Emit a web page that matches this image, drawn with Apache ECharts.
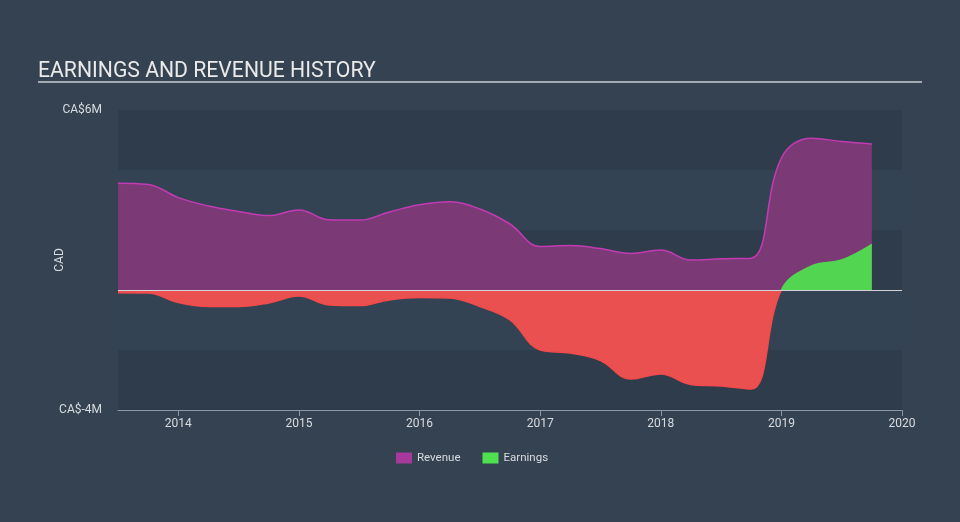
<!DOCTYPE html>
<html>
<head>
<meta charset="utf-8">
<script src="https://cdn.jsdelivr.net/npm/echarts@6/dist/echarts.min.js"></script>
<style>
  html, body { margin: 0; padding: 0; background: #354251; }
  #chart { width: 960px; height: 522px; }
</style>
</head>
<body>
<div id="chart"></div>
<script>
// quarter ends, as decimal years
var quarters = [2013.5, 2013.75, 2014, 2014.25, 2014.5, 2014.75, 2015, 2015.25, 2015.5, 2015.75,
  2016, 2016.25, 2016.5, 2016.75, 2017, 2017.25, 2017.5, 2017.75, 2018, 2018.25, 2018.5, 2018.75,
  2019, 2019.25, 2019.5, 2019.75];
// CA$ millions
var revenue = [3.56, 3.52, 3.08, 2.8, 2.62, 2.48, 2.67, 2.34, 2.33, 2.6,
  2.84, 2.94, 2.7, 2.2, 1.45, 1.48, 1.38, 1.22, 1.33, 1.0, 1.04, 1.06,
  4.4, 5.06, 4.95, 4.87];
var earnings = [-0.09, -0.1, -0.42, -0.55, -0.55, -0.43, -0.2, -0.5, -0.52, -0.33,
  -0.25, -0.27, -0.55, -1.0, -2.0, -2.1, -2.35, -2.97, -2.8, -3.15, -3.2, -3.3,
  0.0, 0.8, 1.0, 1.52];
var yearTicks = [2014, 2015, 2016, 2017, 2018, 2019, 2020];

function pairs(vals) {
  var out = [];
  for (let i = 0; i < quarters.length; i++) {
    out.push([quarters[i], vals[i]]);
  }
  return out;
}

// green above zero, red below (grid runs y 110..410, zero sits at 60%)
function signGradient(up, down) {
  return new echarts.graphic.LinearGradient(0, 110, 0, 410, [
    { offset: 0, color: up },
    { offset: 0.6, color: up },
    { offset: 0.6, color: down },
    { offset: 1, color: down }
  ], true);
}

var chart = echarts.init(document.getElementById('chart'));
var option = {
  backgroundColor: '#354251',
  textStyle: { fontFamily: 'Roboto' },
  title: {
    text: 'EARNINGS AND REVENUE HISTORY',
    left: 33,
    top: 56,
    textStyle: { color: '#eaeaea', fontSize: 21.2, fontWeight: 'normal', fontFamily: 'Roboto' }
  },
  graphic: [{
    type: 'line',
    shape: { x1: 38, y1: 82, x2: 922, y2: 82 },
    style: { stroke: '#a3aab2', lineWidth: 2 },
    silent: true
  }, {
    type: 'line',
    shape: { x1: 118, y1: 290.5, x2: 902, y2: 290.5 },
    style: { stroke: '#d6d3d8', lineWidth: 1 },
    silent: true,
    z: 10
  }],
  legend: {
    bottom: 53,
    left: 391,
    itemWidth: 16,
    itemHeight: 11,
    itemGap: 22,
    itemTextGap: 5,
    icon: 'rect',
    textStyle: { color: '#d8dce0', fontSize: 11.5 },
    data: [
      { name: 'Revenue', itemStyle: { color: '#a8399c' } },
      { name: 'Earnings', itemStyle: { color: '#4fe04f' } }
    ]
  },
  grid: { left: 118, right: 58, top: 110, bottom: 112 },
  xAxis: {
    type: 'value',
    min: 2013.5,
    max: 2020,
    splitLine: { show: false },
    axisLine: { onZero: false, lineStyle: { color: '#8b97a4', width: 1 } },
    axisTick: { customValues: yearTicks, length: 6, lineStyle: { color: '#8b97a4' } },
    axisLabel: {
      customValues: yearTicks,
      color: '#d8dce0',
      fontSize: 12,
      margin: 8,
      formatter: function (v) { return String(v); }
    }
  },
  yAxis: {
    type: 'value',
    min: -4,
    max: 6,
    interval: 2,
    name: 'CAD',
    nameLocation: 'middle',
    nameRotate: 90,
    nameGap: 52,
    nameMoveOverlap: false,
    nameTextStyle: { color: '#d8dce0', fontSize: 12 },
    axisLine: { show: false },
    axisTick: { show: false },
    splitLine: { show: false },
    splitArea: { show: true, areaStyle: { color: ['#2f3c4b', '#344354'] } },
    axisLabel: {
      color: '#d8dce0',
      fontSize: 12,
      margin: 16,
      formatter: function (v) {
        if (v === 6) return 'CA$6M';
        if (v === -4) return 'CA$-4M';
        return '';
      }
    }
  },
  series: [
    {
      name: 'Revenue',
      type: 'line',
      data: pairs(revenue),
      smooth: 0.4,
      showSymbol: false,
      itemStyle: { color: '#a8399c' },
      lineStyle: { color: '#c23bb3', width: 1.5 },
      areaStyle: { color: '#7b3976', opacity: 1 },
      z: 2
    },
    {
      name: 'Earnings',
      type: 'line',
      data: pairs(earnings),
      smooth: 0.4,
      showSymbol: false,
      itemStyle: { color: '#4fe04f' },
      lineStyle: { width: 1.5, color: signGradient('#52d652', '#f24a4a') },
      areaStyle: { color: signGradient('#52d652', '#ea5050'), opacity: 1 },
      z: 3
    }
  ]
};
chart.setOption(option);
</script>
</body>
</html>
